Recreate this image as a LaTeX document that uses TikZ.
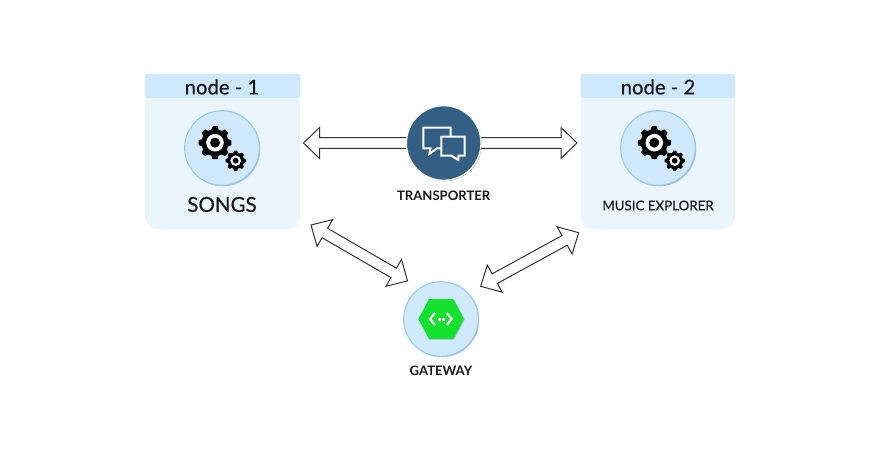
\documentclass[tikz,border=0pt]{standalone}
\usepackage{fontspec}
\setmainfont{Lato}
\newfontfamily\medfont{Lato}[FakeBold=0.35]
\usetikzlibrary{calc,shadows}
\definecolor{cardbg}{HTML}{EAF5FF}
\definecolor{cardhead}{HTML}{CEE9FF}
\definecolor{circfill}{HTML}{D0E9FE}
\definecolor{circline}{HTML}{8FCBF5}
\definecolor{navy}{HTML}{345F85}
\definecolor{hexgreen}{HTML}{12E22E}
\definecolor{arrowline}{HTML}{333333}
\tikzset{
  x=0.75pt,y=-0.75pt,
  softshadow/.style={drop shadow={shadow xshift=0.7pt,shadow yshift=-0.7pt,opacity=0.25,fill=black}},
  svccircle/.style={circle,draw=circline,line width=0.8pt,fill=circfill,minimum size=56pt,inner sep=0pt,softshadow},
  hubcircle/.style={circle,draw=white,line width=1pt,fill=navy,minimum size=56pt,inner sep=0pt,softshadow},
  headtext/.style={font=\medfont\fontsize{15.2}{15}\selectfont,text=black!90,inner sep=0pt},
  labtext/.style={text=black!90,inner sep=0pt},
  boldlab/.style={text=black!90,inner sep=0pt,font=\bfseries\fontsize{9.8}{10}\selectfont},
  bubble/.style={draw=white,line width=1.5pt,fill=navy,line join=miter},
  fatarrow/.style={draw=arrowline,line width=0.75pt,fill=white,line join=miter},
  chevron/.style={draw=white,line width=1.6pt},
}
% gear: #1 centre, #2 outer radius, #3 root radius, #4 ring radius, #5 hub radius
\newcommand{\gearicon}[5]{%
  \begin{scope}[shift={(#1)}]
  \fill[black,rounded corners=0.5pt]
    \foreach \k in {0,...,7}{
      \ifnum\k=0 (\k*45-14:#3) \else -- (\k*45-14:#3) \fi
      -- (\k*45-9:#2) -- (\k*45+9:#2) -- (\k*45+14:#3)
    } -- cycle;
  \fill[white] (0,0) circle[radius=#4];
  \fill[black] (0,0) circle[radius=#5];
  \end{scope}%
}
% hollow double arrow between two named coordinates: #1,#2 tips
\newcommand{\fatdouble}[2]{%
  \path let \p1=($(#2)-(#1)$),\n1={veclen(\x1,\y1)},\n2={atan2(\y1,\x1)} in
    [/utils/exec={\xdef\fatlen{\n1}\xdef\fatang{\n2}}];
  \begin{scope}[shift={(#1)},rotate=\fatang,x=1pt,y=1pt]
    \draw[fatarrow] (0,0) -- (12,11.6) -- (12,4.1) -- (\fatlen-12,4.1) -- (\fatlen-12,11.6)
      -- (\fatlen,0) -- (\fatlen-12,-11.6) -- (\fatlen-12,-4.1) -- (12,-4.1) -- (12,-11.6) -- cycle;
  \end{scope}%
}
\newcommand{\fatsingle}[2]{%
  \path let \p1=($(#2)-(#1)$),\n1={veclen(\x1,\y1)},\n2={atan2(\y1,\x1)} in
    [/utils/exec={\xdef\fatlen{\n1}\xdef\fatang{\n2}}];
  \begin{scope}[shift={(#1)},rotate=\fatang,x=1pt,y=1pt]
    \draw[fatarrow] (0,4.1) -- (\fatlen-12,4.1) -- (\fatlen-12,11.6)
      -- (\fatlen,0) -- (\fatlen-12,-11.6) -- (\fatlen-12,-4.1) -- (0,-4.1);
  \end{scope}%
}
\begin{document}
\begin{tikzpicture}
\useasboundingbox (0,0) rectangle (874,453);
\fill[white] (0,0) rectangle (874,453);

% cards
\fill[cardbg,rounded corners=9pt] (145,90) rectangle (300,229);
\fill[cardhead,rounded corners=1.5pt] (145,74) rectangle (300,98);
\fill[cardbg] (145,98) rectangle (300,110);
\fill[cardbg,rounded corners=9pt] (580.5,90) rectangle (735,229);
\fill[cardhead,rounded corners=1.5pt] (580.5,74) rectangle (735,98);
\fill[cardbg] (580.5,98) rectangle (735,110);
\node[headtext] (h1) at (222,87) {node - 1};
\node[headtext] (h2) at (658,87) {node - 2};

% free ends of the connectors
\coordinate (tipL) at (303.5,143);
\coordinate (baseL) at (410,143);
\coordinate (tipR) at (577,143);
\coordinate (baseR) at (478,143);
\coordinate (a1) at (311,225);
\coordinate (a2) at (407.7,281);
\coordinate (b1) at (480.7,286.3);
\coordinate (b2) at (578.7,232.7);

\fatsingle{baseL}{tipL}
\fatsingle{baseR}{tipR}
\fatdouble{a1}{a2}
\fatdouble{b1}{b2}

% service circles
\node[svccircle] (songs) at (222,148) {};
\node[svccircle] (music) at (658,148) {};
\gearicon{215,142.7}{16.7}{13.6}{8.8}{5}
\gearicon{235.7,160.7}{10.3}{8.3}{5.3}{2.9}
\gearicon{654.3,142.7}{16.7}{13.6}{8.8}{5}
\gearicon{674.7,160.7}{10.3}{8.3}{5.3}{2.9}
\node[labtext,font=\medfont\fontsize{15.4}{15}\selectfont] (songslab) at (222,204.5) {SONGS};
\node[labtext,font=\medfont\fontsize{10}{10}\selectfont] (musiclab) at (658,205.5) {MUSIC EXPLORER};

% transporter
\node[hubcircle] (trans) at (443.7,143) {};
\draw[bubble] (423.3,127.7) -- (450.7,127.7) -- (450.7,148.3) -- (437,148.3) -- (429.3,154) -- (430.5,148.3) -- (423.3,148.3) -- cycle;
\draw[bubble] (441.3,136.7) -- (464.7,136.7) -- (464.7,155.7) -- (458.5,155.7) -- (458.3,160) -- (451.5,155.7) -- (441.3,155.7) -- cycle;
\node[boldlab] (translab) at (443.7,195.5) {TRANSPORTER};

% gateway
\node[svccircle] (gate) at (441,319) {};
\fill[hexgreen,drop shadow={shadow xshift=0.5pt,shadow yshift=-0.5pt,opacity=0.2,fill=black}] (418.3,319) -- (429,299) -- (453.3,299) -- (464,319) -- (453.3,339) -- (429,339) -- cycle;
\draw[chevron] (435,313) -- (430,319) -- (435,325);
\draw[chevron] (446.7,313) -- (451.7,319) -- (446.7,325);
\draw[chevron] (437.5,319.5) -- (440.5,319.5) (442,319.5) -- (445,319.5);
\node[boldlab] (gatelab) at (441,370.5) {GATEWAY};
\end{tikzpicture}
\end{document}
